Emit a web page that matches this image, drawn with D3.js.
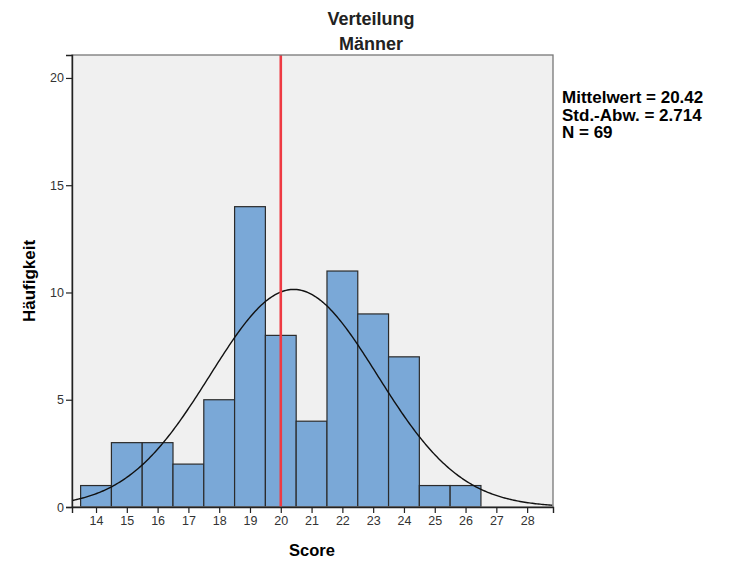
<!DOCTYPE html>
<html>
<head>
<meta charset="utf-8">
<script src="https://cdn.jsdelivr.net/npm/d3@7"></script>
<style>
  body { margin: 0; background: #fff; }
  text { font-family: "Liberation Sans", Arial, sans-serif; }
</style>
</head>
<body>
<div id="chart"></div>
<script>
// Data
let scores = [14, 15, 16, 17, 18, 19, 20, 21, 22, 23, 24, 25, 26]
let counts = [1, 3, 3, 2, 5, 14, 8, 4, 11, 9, 7, 1, 1]
let xTicks = [14, 15, 16, 17, 18, 19, 20, 21, 22, 23, 24, 25, 26, 27, 28]
let yTicks = [0, 5, 10, 15, 20]
let stats = ['Mittelwert = 20.42', 'Std.-Abw. = 2.714', 'N = 69']
let mean = 20.42
let sd = 2.714
let n = 69
let refLine = 20

// Margin convention
let margin = {top: 55, right: 177, left: 72, bottom: 54}
let width = 730 - margin.left - margin.right
let height = 561 - margin.top - margin.bottom

let svg = d3.select('div#chart')
  .append('svg')
    .attr('width', 730)
    .attr('height', 561)

let g = svg.append('g')
  .attr('transform', `translate(${margin.left}, ${margin.top})`)

let x = d3.scaleLinear().domain([13.22, 28.84]).range([0, width])
let y = d3.scaleLinear().domain([0, 21.07]).range([height, 0])

// plot background
g.append('rect')
  .attr('width', width)
  .attr('height', height)
  .attr('fill', '#f0f0f0')

// bars
g.selectAll('rect.bar')
  .data(scores)
  .enter().append('rect')
  .attr('class', 'bar')
  .attr('x', (d) => x(d - 0.5))
  .attr('width', (d) => x(d + 0.5) - x(d - 0.5))
  .attr('y', (d, i) => y(counts[i]))
  .attr('height', (d, i) => height - y(counts[i]))
  .attr('fill', '#7aa8d7')
  .attr('stroke', '#2b2b2b')
  .attr('stroke-width', 1.2)

// normal curve from mean / sd / N
let curvePts = d3.range(13.22, 28.85, 0.05).map((v) => {
  let z = (v - mean) / sd
  return [v, n / (sd * Math.sqrt(2 * Math.PI)) * Math.exp(-0.5 * z * z)]
})
g.append('path')
  .datum(curvePts)
  .attr('fill', 'none')
  .attr('stroke', '#111')
  .attr('stroke-width', 1.4)
  .attr('d', d3.line().x((d) => x(d[0])).y((d) => y(d[1])))

// reference line
g.append('line')
  .attr('x1', x(refLine))
  .attr('x2', x(refLine))
  .attr('y1', 0)
  .attr('y2', height)
  .attr('stroke', '#ee3a43')
  .attr('stroke-width', 2.6)

// frame
g.append('rect')
  .attr('width', width)
  .attr('height', height)
  .attr('fill', 'none')
  .attr('stroke', '#777')
  .attr('stroke-width', 1.3)

// axes
let xAxis = g.append('g')
  .attr('transform', `translate(0, ${height})`)
  .call(d3.axisBottom(x).tickValues(xTicks).tickSize(6).tickPadding(3).tickFormat(d3.format('d')))
let yAxis = g.append('g')
  .call(d3.axisLeft(y).tickValues(yTicks).tickSize(6).tickPadding(2).tickFormat(d3.format('d')))

for (let ax of [xAxis, yAxis]) {
  ax.select('.domain').attr('stroke', '#222').attr('stroke-width', 1.4)
  ax.selectAll('.tick line').attr('stroke', '#222').attr('stroke-width', 1.2)
  ax.selectAll('.tick text').attr('fill', '#333').style('font-size', '12.5px')
    .style('font-family', '"Liberation Sans", Arial, sans-serif')
}

// titles
svg.append('text')
  .attr('x', 371).attr('y', 25)
  .attr('text-anchor', 'middle')
  .style('font-size', '18px')
  .style('font-weight', 'bold')
  .attr('fill', '#222')
  .text('Verteilung')
svg.append('text')
  .attr('x', 371).attr('y', 50)
  .attr('text-anchor', 'middle')
  .style('font-size', '18px')
  .style('font-weight', 'bold')
  .attr('fill', '#222')
  .text('Männer')

svg.append('text')
  .attr('x', 312).attr('y', 556)
  .attr('text-anchor', 'middle')
  .style('font-size', '16.5px')
  .style('font-weight', 'bold')
  .text('Score')

svg.append('text')
  .attr('transform', `translate(35, ${margin.top + height / 2}) rotate(-90)`)
  .attr('text-anchor', 'middle')
  .style('font-size', '17px')
  .style('font-weight', 'bold')
  .text('Häufigkeit')

// stats box
svg.append('g')
  .selectAll('text')
  .data(stats)
  .enter().append('text')
  .attr('x', 562)
  .attr('y', (d, i) => 103 + i * 17.5)
  .style('font-size', '17px')
  .style('font-weight', 'bold')
  .text((d) => d)
</script>
</body>
</html>
